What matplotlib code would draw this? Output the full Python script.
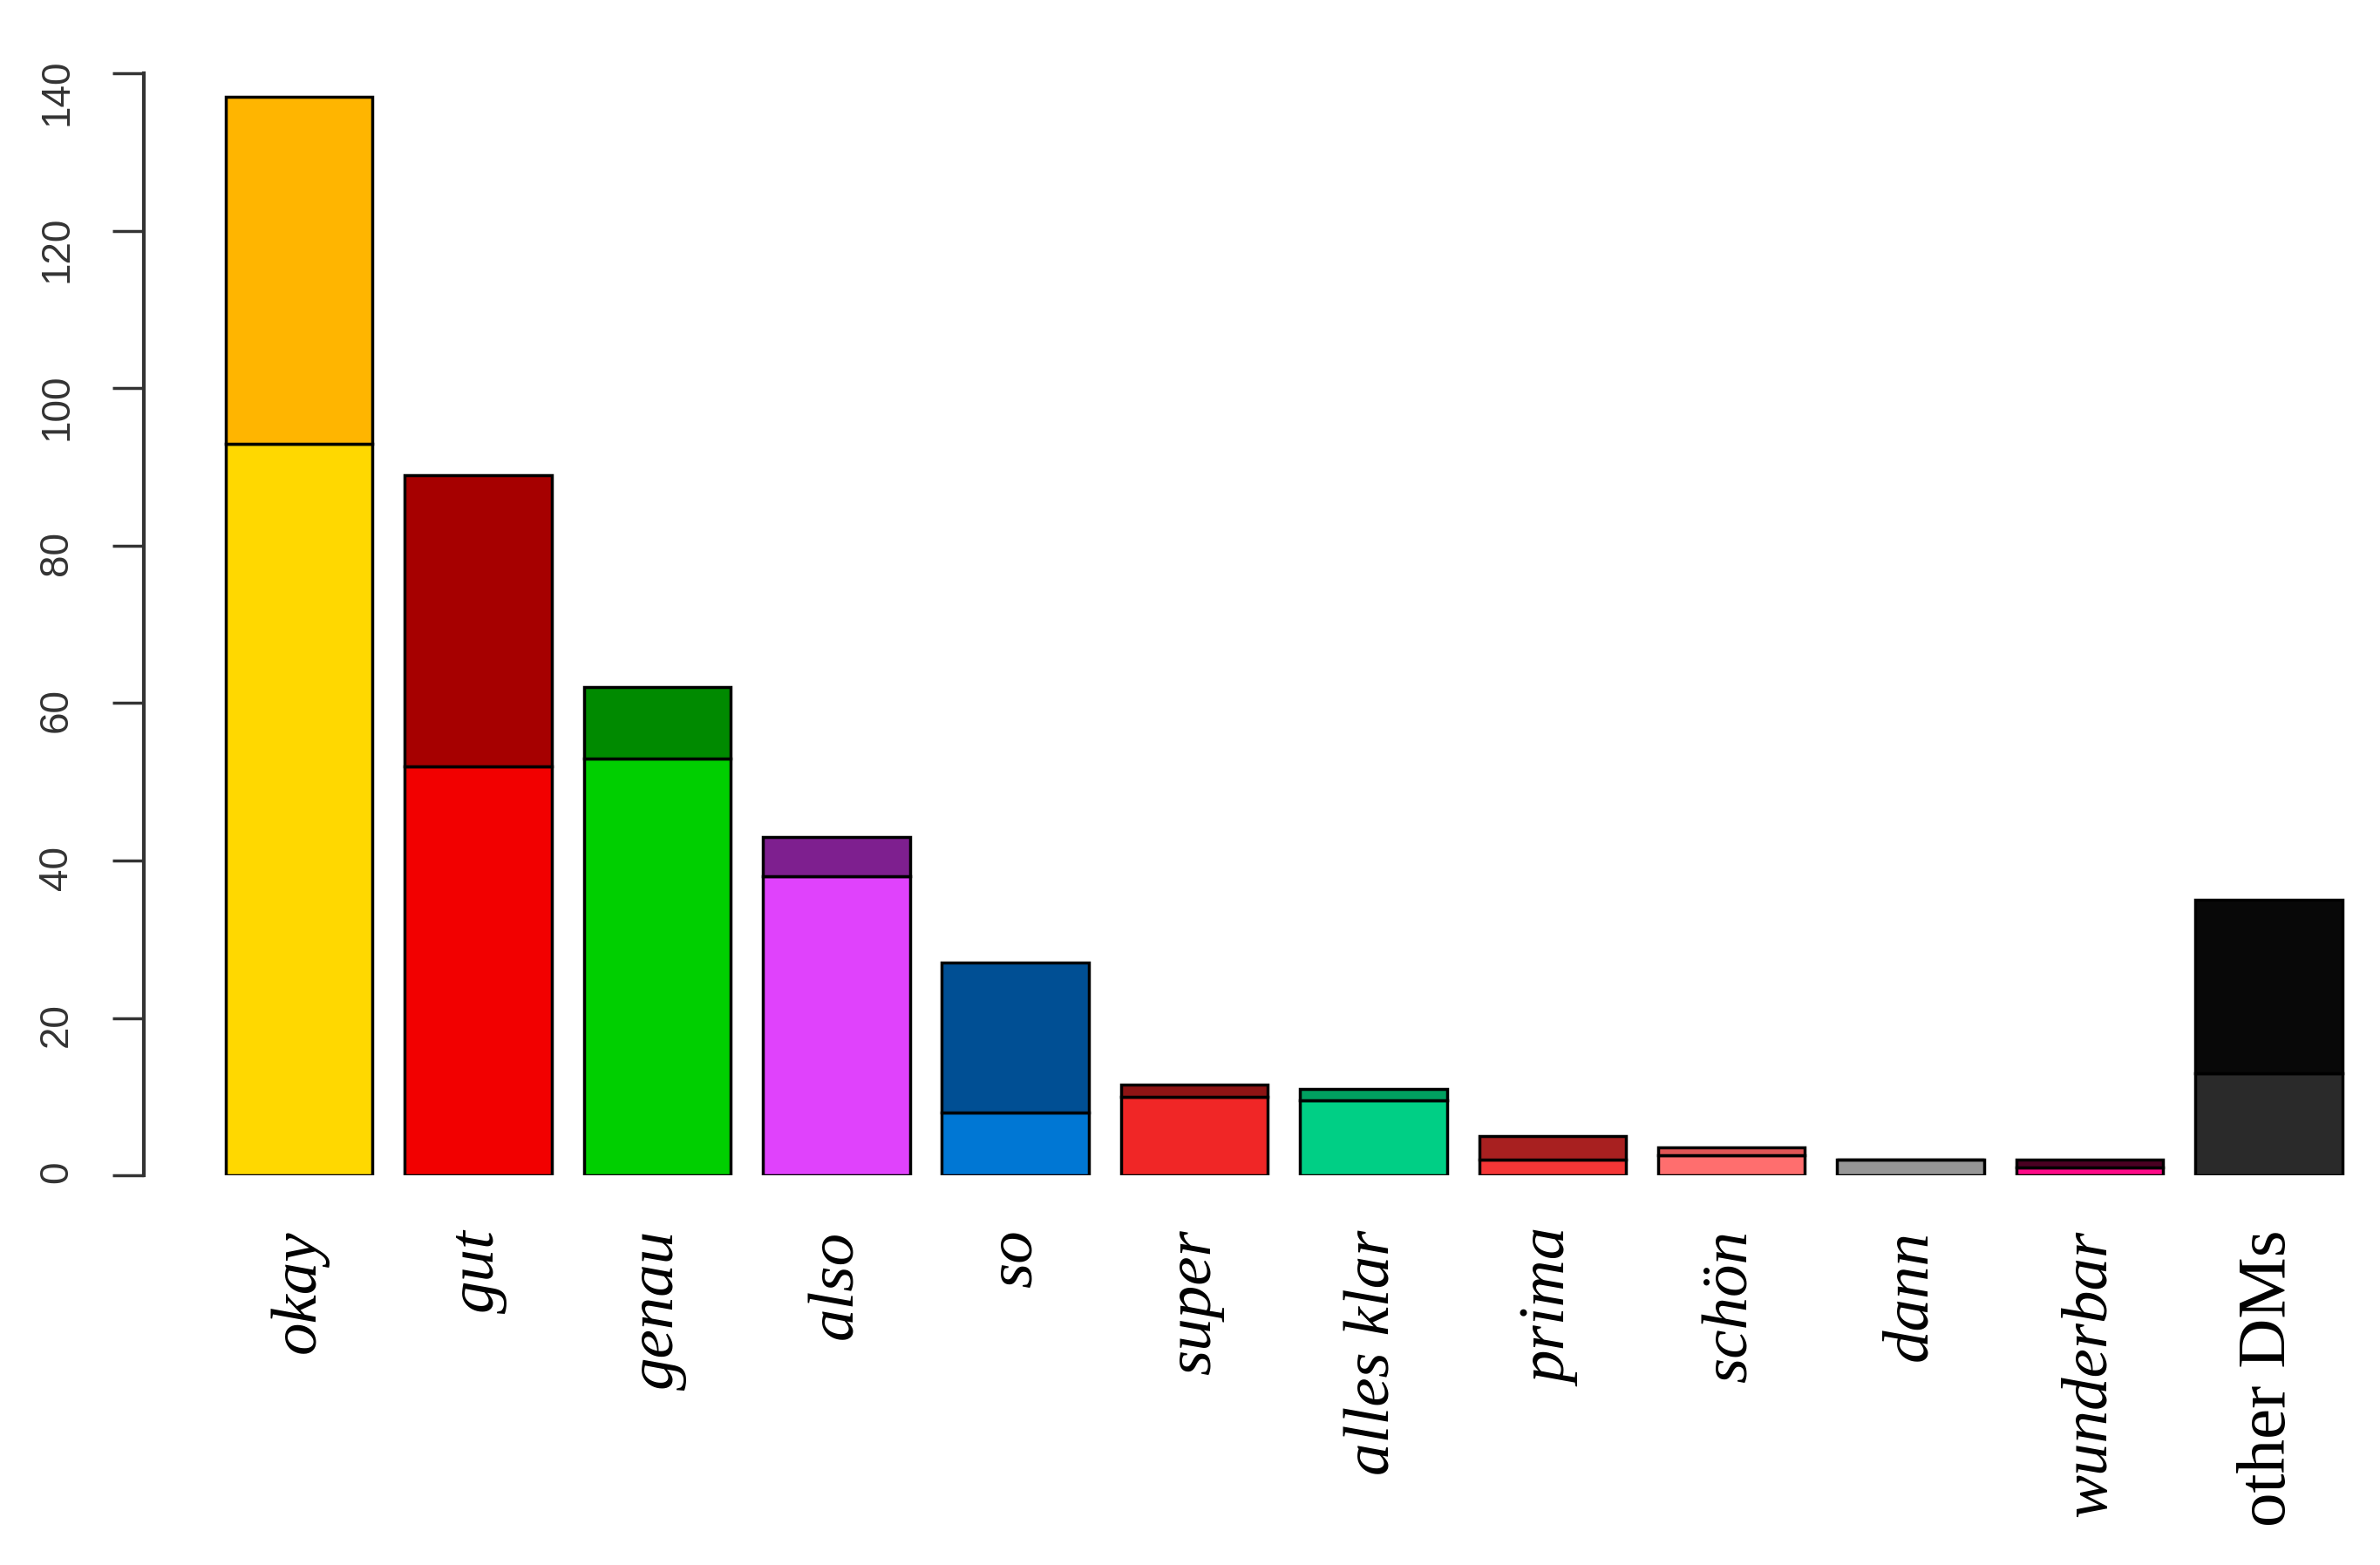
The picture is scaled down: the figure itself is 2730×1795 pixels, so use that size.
import matplotlib
matplotlib.use("Agg")
from matplotlib import pyplot as plt
import numpy as np

# discourse markers and counts (lower / upper part of each stacked bar)
markers = ["okay", "gut", "genau", "also", "so", "super", "alles klar",
           "prima", "schön", "dann", "wunderbar", "other DMs"]
lower = [93, 52, 53, 38, 8, 10, 9.5, 2, 2.5, 2, 1, 13]
upper = [44, 37, 9, 5, 19, 1.5, 1.5, 3, 1, 0, 1, 22]

lower_colors = ["#FFD800", "#F20000", "#00CF00", "#E042FC", "#0077D4", "#F02626",
                "#00CF85", "#F53636", "#FF6E6E", "#969696", "#FF0A88", "#2A2A2A"]
upper_colors = ["#FFB500", "#A60000", "#008A00", "#7E1F8F", "#004F94", "#8E1414",
                "#00A060", "#A82020", "#E05555", "#969696", "#4A0022", "#080808"]

yticks = [0, 20, 40, 60, 80, 100, 120, 140]

fig = plt.figure(figsize=(27.3, 17.95), dpi=100)
ax = fig.add_axes([0.0604, 0.249, 0.938, 0.704])

x = np.arange(len(markers))
w = 0.82
ax.bar(x, lower, width=w, color=lower_colors, edgecolor="black", linewidth=2.5)
ax.bar(x, upper, width=w, bottom=lower, color=upper_colors, edgecolor="black", linewidth=2.5)

ax.set_xlim(-0.868, 11.6)
ax.set_ylim(0, 140)

for s in ["top", "right", "bottom"]:
    ax.spines[s].set_visible(False)
ax.spines["left"].set_bounds(0, 140)
ax.spines["left"].set_linewidth(3)
ax.spines["left"].set_color("#333333")

ax.set_yticks(yticks)
ax.set_yticklabels([str(v) for v in yticks], family="Liberation Sans",
                   fontsize=33, color="#333333")
ax.tick_params(axis="y", labelrotation=90, length=26, width=2.5,
               color="#333333", pad=30)

ax.set_xticks(x)
ax.set_xticklabels(markers, rotation=90, family="Liberation Serif", fontsize=54)
for lab in ax.get_xticklabels():
    if lab.get_text() != "other DMs":
        lab.set_style("italic")
    else:
        lab.set_fontsize(57)
ax.tick_params(axis="x", length=0, pad=45)

plt.savefig("out.png", dpi=100)
